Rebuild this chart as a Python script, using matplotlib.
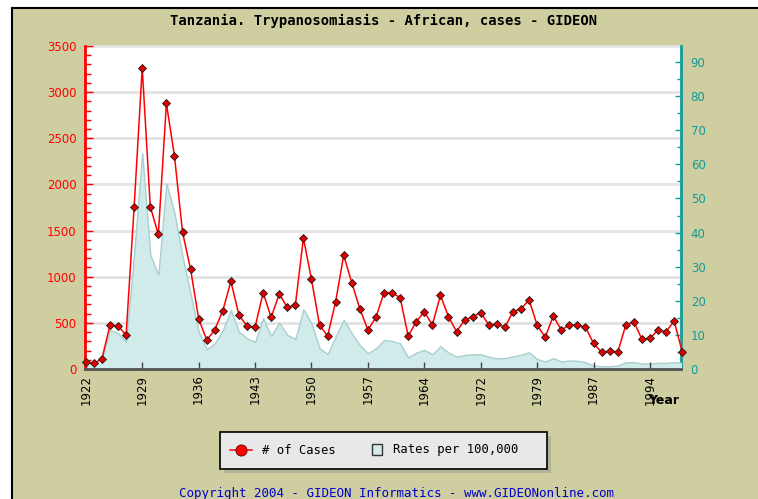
import matplotlib
matplotlib.use("Agg")
import matplotlib.pyplot as plt
from matplotlib.patches import Rectangle
from matplotlib.lines import Line2D
from matplotlib.ticker import MultipleLocator
from matplotlib.transforms import blended_transform_factory

# ---------------- data ----------------
years = [1922, 1923, 1924, 1925, 1926, 1927, 1928, 1929, 1930, 1931,
         1932, 1933, 1934, 1935, 1936, 1937, 1938, 1939, 1940, 1941,
         1942, 1943, 1944, 1945, 1946, 1947, 1948, 1949, 1950, 1951,
         1952, 1953, 1954, 1955, 1956, 1957, 1958, 1959, 1960, 1961,
         1962, 1963, 1964, 1965, 1966, 1967, 1969, 1970, 1971, 1972,
         1973, 1974, 1975, 1976, 1977, 1978, 1979, 1980, 1981, 1982,
         1984, 1985, 1986, 1987, 1988, 1989, 1990, 1991, 1992, 1993,
         1994, 1995, 1996, 1997, 1998]

cases = [79, 62, 108, 477, 466, 368, 1758, 3264, 1758, 1459,
         2878, 2308, 1484, 1080, 545, 314, 423, 632, 950, 585,
         466, 452, 827, 560, 813, 668, 690, 1419, 972, 477,
         358, 729, 1232, 935, 653, 423, 560, 827, 827, 773,
         358, 513, 621, 477, 798, 567, 405, 531, 567, 610,
         477, 488, 452, 621, 653, 748, 477, 343, 574, 423,
         477, 477, 452, 278, 181, 195, 181, 477, 513, 322,
         332, 423, 405, 520, 185]

rates = [1.7, 1.8, 3.2, 11.5, 10.5, 8.0, 34.0, 63.3, 33.5, 27.6,
         54.5, 45.7, 33.0, 22.0, 11.0, 5.8, 7.5, 11.4, 17.3, 10.9,
         9.0, 8.0, 14.9, 9.7, 13.6, 10.0, 8.8, 17.5, 13.4, 6.1,
         4.4, 9.5, 14.4, 10.5, 7.0, 4.6, 6.1, 8.5, 8.2, 7.5,
         3.4, 4.8, 5.6, 4.3, 6.7, 4.8, 3.6, 4.1, 4.3, 4.3,
         3.6, 3.1, 3.2, 3.7, 4.2, 4.9, 2.9, 2.2, 3.2, 2.2,
         2.5, 2.4, 2.0, 1.0, 0.8, 0.8, 1.0, 2.0, 2.0, 1.6,
         1.6, 1.8, 1.8, 2.0, 1.8]

left_ticks = [0, 500, 1000, 1500, 2000, 2500, 3000, 3500]
right_ticks = [0, 10, 20, 30, 40, 50, 60, 70, 80, 90]

title = "Tanzania. Trypanosomiasis - African, cases - GIDEON"
legend_labels = ["# of Cases", "Rates per 100,000"]
copyright_text = "Copyright 2004 - GIDEON Informatics - www.GIDEONonline.com"

# ---------------- style ----------------
W, H = 758, 499
TAN = "#cfcea0"
RED = "#ff0000"
TEAL = "#139a9a"
AREA = "#d1ebeb"
AREA_EDGE = "#a9cfcf"
MONO = ["DejaVu Sans Mono"]
SANS = ["DejaVu Sans"]


def fx(px):
    return px / W


def fy(py):
    return 1 - py / H


fig = plt.figure(figsize=(W / 100, H / 100), dpi=100, facecolor=TAN)
# white margin strips at top and left, with black border lines
fig.patches.append(Rectangle((0, fy(8)), 1, 8 / H, transform=fig.transFigure,
                             facecolor="white", edgecolor="none", zorder=-5))
fig.patches.append(Rectangle((0, 0), 12 / W, 1, transform=fig.transFigure,
                             facecolor="white", edgecolor="none", zorder=-5))
fig.lines.append(Line2D([fx(12), 1], [fy(8), fy(8)], transform=fig.transFigure,
                        color="black", lw=1.5, zorder=-4))
fig.lines.append(Line2D([fx(12), fx(12)], [0, fy(8)], transform=fig.transFigure,
                        color="black", lw=1.5, zorder=-4))

left_px, right_px, top_px, bot_px = 85, 681, 46, 369
ax = fig.add_axes([fx(left_px), fy(bot_px), (right_px - left_px) / W,
                   (bot_px - top_px) / H])
ax2 = ax.twinx()
ax2.set_zorder(1)
ax.set_zorder(2)
ax.patch.set_visible(False)
ax2.patch.set_visible(True)
ax2.patch.set_facecolor("white")

x = list(range(len(years)))

# rates area (right axis)
ax2.fill_between(x, rates, 0, facecolor=AREA, edgecolor=AREA_EDGE, lw=1.0,
                 zorder=3)
# horizontal grid lines at left-axis values, drawn behind the area
gtrans = blended_transform_factory(ax2.transAxes, ax.transData)
for v in left_ticks[1:]:
    ax2.plot([0, 1], [v, v], transform=gtrans, color="#e2e2e2", lw=2.0,
             zorder=1, clip_on=False)

# cases line (left axis)
ax.plot(x, cases, color=RED, lw=1.1, marker="D", ms=4.2,
        markerfacecolor="#e00000", markeredgecolor="#1a1a1a",
        markeredgewidth=0.6, zorder=5, clip_on=False)

ax.set_xlim(-0.1, 73.85)
ax.set_ylim(0, 3500)
ax2.set_ylim(0, 94.7)

# left axis
ax.set_yticks(left_ticks)
ax.yaxis.set_minor_locator(MultipleLocator(100))
ax.tick_params(axis="y", which="major", direction="in", length=6, width=1,
               colors=RED, labelsize=8.5, pad=6)
ax.tick_params(axis="y", which="minor", direction="in", length=4.5, width=1,
               colors=RED)
for lab in ax.get_yticklabels():
    lab.set_family(SANS)

# right axis
ax2.set_yticks(right_ticks)
ax2.yaxis.set_minor_locator(MultipleLocator(5))
ax2.tick_params(axis="y", which="major", direction="in", length=4.5, width=1,
                colors=TEAL, labelsize=8.5, pad=7)
ax2.tick_params(axis="y", which="minor", direction="in", length=3, width=1,
                colors=TEAL)

# x axis
ax.set_xticks(x[::7])
ax.set_xticklabels([str(y) for y in years[::7]], rotation=90)
ax.tick_params(axis="x", direction="in", length=5, width=1, colors="#444444",
               labelcolor="black", labelsize=8.5, pad=4)

for s in ["top", "right"]:
    ax.spines[s].set_visible(False)
ax.spines["left"].set_color(RED)
ax.spines["left"].set_linewidth(2)
ax.spines["bottom"].set_color("#555555")
ax.spines["bottom"].set_linewidth(2)
for s in ["top", "left", "bottom"]:
    ax2.spines[s].set_visible(False)
ax2.spines["right"].set_visible(True)
ax2.spines["right"].set_color(TEAL)
ax2.spines["right"].set_linewidth(2)

# texts
fig.text(fx(384), fy(21), title, ha="center", va="center", fontsize=10,
         fontweight="bold", family=MONO)
fig.text(fx(664), fy(401), "Year", ha="center", va="center", fontsize=9,
         fontweight="bold", family=SANS)

# legend (manual)
lx0, ly0, lx1, ly1 = 220, 432, 547, 469
fig.patches.append(Rectangle((fx(lx0 + 4), fy(ly1 + 4)), (lx1 - lx0) / W,
                             (ly1 - ly0) / H, transform=fig.transFigure,
                             facecolor="#b4b39a", edgecolor="none", zorder=2))
fig.patches.append(Rectangle((fx(lx0), fy(ly1)), (lx1 - lx0) / W,
                             (ly1 - ly0) / H, transform=fig.transFigure,
                             facecolor="#e8e8e8", edgecolor="black", lw=1.2,
                             zorder=3))
ly = fy(450)
fig.lines.append(Line2D([fx(230), fx(252)], [ly, ly], transform=fig.transFigure,
                        color=RED, lw=1.1, zorder=4))
fig.lines.append(Line2D([fx(241)], [ly], transform=fig.transFigure,
                        marker="o", ms=8, markerfacecolor=RED,
                        markeredgecolor="#550000", markeredgewidth=0.6,
                        ls="none", zorder=5))
fig.text(fx(262), ly, legend_labels[0], ha="left", va="center", fontsize=8.8,
         family=MONO, zorder=5)
fig.patches.append(Rectangle((fx(372), fy(455)), 10 / W, 11 / H,
                             transform=fig.transFigure, facecolor=AREA,
                             edgecolor="#333333", lw=1, zorder=5))
fig.text(fx(393), ly, legend_labels[1], ha="left", va="center", fontsize=8.8,
         family=MONO, zorder=5)

fig.text(fx(396), fy(494), copyright_text, ha="center", va="center",
         fontsize=9, color="#0000cc", family=MONO)

fig.savefig("out.png", dpi=100, facecolor=fig.get_facecolor())
